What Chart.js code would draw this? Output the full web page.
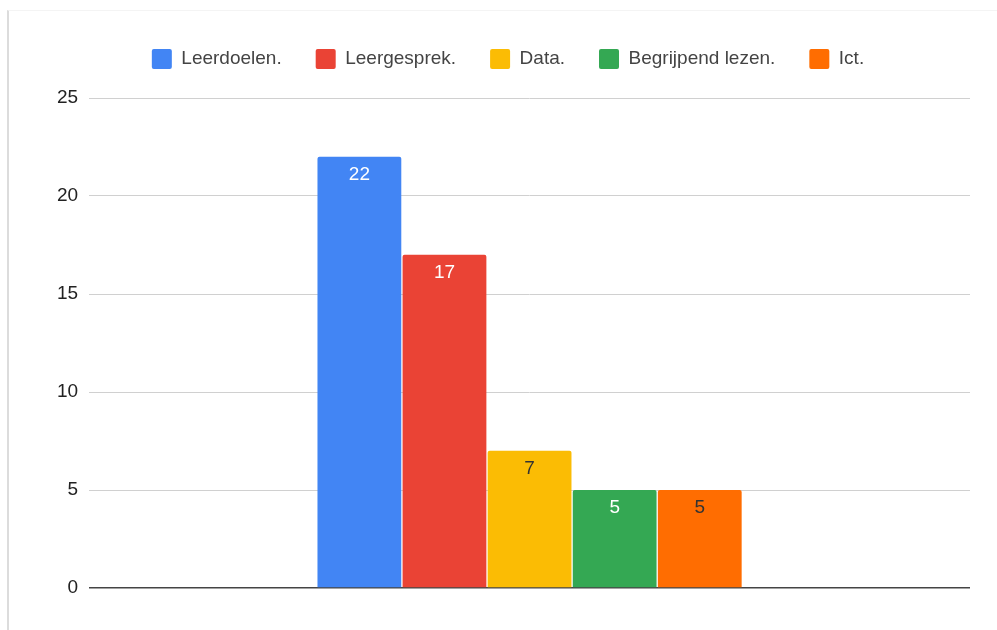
<!DOCTYPE html>
<html>
<head>
<meta charset="utf-8">
<script src="https://cdn.jsdelivr.net/npm/chart.js@4/dist/chart.umd.min.js"></script>
<style>
  html,body{margin:0;padding:0;background:#fff;}
  #wrap{position:relative;width:997px;height:630px;}
  #frame{position:absolute;left:7px;top:10px;width:990px;height:620px;border-left:2px solid #dcdcdc;border-top:1px solid #f4f4f4;box-sizing:border-box;}
  canvas{position:absolute;left:0;top:0;}
</style>
</head>
<body>
<div id="wrap">
  <div id="frame"></div>
  <canvas id="c" width="997" height="630"></canvas>
</div>
<script>
// ============ DATA ============
const categories = [''];
const seriesNames = ['Leerdoelen.', 'Leergesprek.', 'Data.', 'Begrijpend lezen.', 'Ict.'];
const seriesValues = [[22], [17], [7], [5], [5]];
const seriesColors = ['#4285F4', '#EA4335', '#FBBC04', '#34A853', '#FF6D01'];
const labelColors = ['#ffffff', '#ffffff', '#333333', '#ffffff', '#333333'];
const yTicks = [0, 5, 10, 15, 20, 25];

const FONT = "'Liberation Sans', Arial, sans-serif";

// ============ PLUGINS ============
// value labels just inside the top of each bar
const barLabels = {
  id: 'barLabels',
  afterDatasetsDraw(chart) {
    const ctx = chart.ctx;
    ctx.save();
    ctx.font = '19px ' + FONT;
    ctx.textAlign = 'center';
    ctx.textBaseline = 'middle';
    chart.data.datasets.forEach((ds, i) => {
      chart.getDatasetMeta(i).data.forEach((bar, j) => {
        ctx.fillStyle = labelColors[i];
        ctx.fillText(ds.data[j], bar.x, bar.y + 18);
      });
    });
    ctx.restore();
  }
};

// extra room under the legend
const legendGap = {
  id: 'legendGap',
  beforeInit(chart) {
    const fit = chart.legend.fit;
    chart.legend.fit = function () {
      fit.bind(chart.legend)();
      this.height += 19;
    };
  }
};

// ============ CHART ============
new Chart(document.getElementById('c'), {
  type: 'bar',
  data: {
    labels: categories,
    datasets: seriesNames.map((name, i) => ({
      label: name,
      data: seriesValues[i],
      backgroundColor: seriesColors[i],
      borderWidth: 0,
      borderRadius: 2,
      categoryPercentage: 0.483,
      barPercentage: 0.985
    }))
  },
  options: {
    responsive: false,
    animation: false,
    layout: {padding: {left: 46, right: 27, top: 15, bottom: 34}},
    plugins: {
      tooltip: {enabled: false},
      legend: {
        position: 'top',
        labels: {
          color: '#444',
          font: {family: FONT, size: 19},
          boxWidth: 20, boxHeight: 20,
          useBorderRadius: true, borderRadius: 2,
          padding: 34
        }
      }
    },
    scales: {
      x: {
        grid: {display: false},
        border: {display: false},
        ticks: {display: false}
      },
      y: {
        min: 0, max: 25,
        afterBuildTicks: axis => { axis.ticks = yTicks.map(v => ({value: v})); },
        border: {display: false},
        grid: {
          drawTicks: false,
          color: c => c.tick.value === 0 ? '#444' : '#d0d0d0',
          lineWidth: c => c.tick.value === 0 ? 1.6 : 1
        },
        ticks: {
          color: '#222',
          font: {family: FONT, size: 19},
          padding: 11
        }
      }
    }
  },
  plugins: [barLabels, legendGap]
});
</script>
</body>
</html>
